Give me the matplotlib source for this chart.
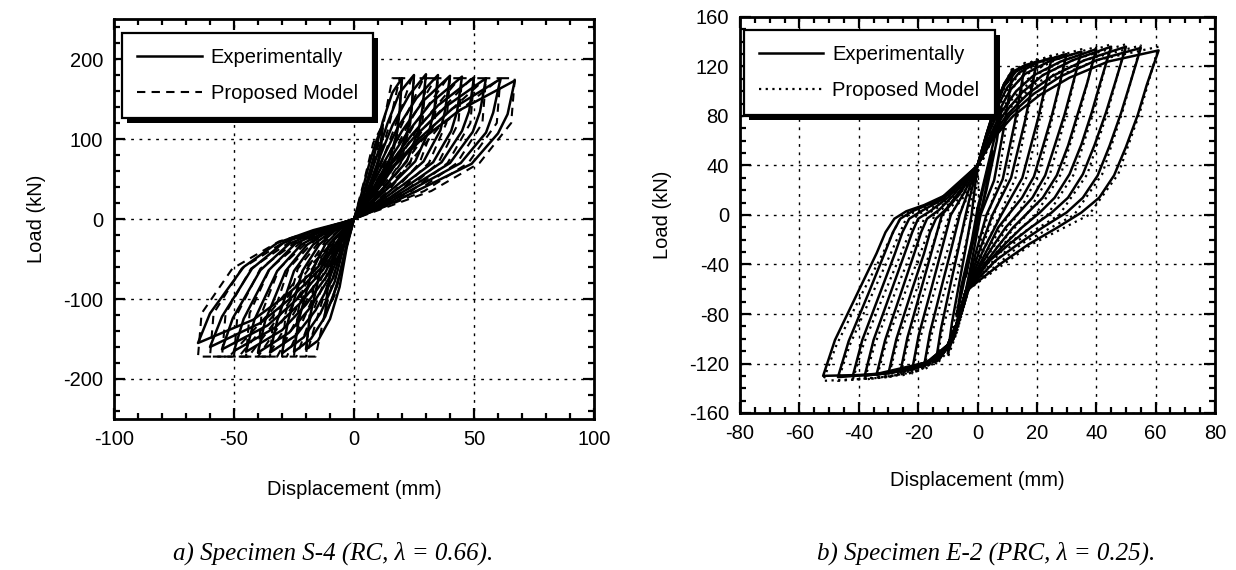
import matplotlib
matplotlib.use("Agg")
import matplotlib.pyplot as plt
from matplotlib.ticker import MultipleLocator
from matplotlib.patches import Rectangle
from matplotlib.transforms import IdentityTransform

plt.rcParams['font.family'] = ['Liberation Sans', 'DejaVu Sans']
plt.rcParams['axes.unicode_minus'] = False

# ---- a) Specimen S-4 : one closed loop per cycle, (displacement mm, load kN)
S4_EXP = [
    [(0, 0), (3, 30), (6, 65), (9, 95), (12, 118), (11, 90), (9.5, 62), (7, 38), (3.5, 15), (0, 0),
     (-3, -32), (-6, -70), (-9, -100), (-12, -118), (-11, -88), (-8.5, -48), (-6, -25), (-3, -11), (-0.5, -2), (0, 0)],
    [(0, 0), (4, 32), (8, 75), (12, 122), (16, 158), (20, 176), (19, 135), (18, 109), (14.5, 70), (9.5, 44), (4.5, 19), (0, 0),
     (-3, -35), (-6, -85), (-10, -125), (-15, -152), (-20, -163), (-18.5, -124), (-14, -64), (-10, -31), (-5, -15), (-1, -3), (0, 0)],
    [(0, 0), (4, 30), (9, 74), (14, 120), (19, 158), (25, 180), (24, 137), (22.5, 112), (18, 72), (12, 45), (5.5, 20), (0, 0),
     (-3, -32), (-7, -82), (-12, -122), (-18, -150), (-25, -166), (-23, -126), (-17.5, -65), (-12, -32), (-6.5, -15), (-1.5, -3), (0, 0)],
    [(0, 0), (5, 31), (10, 72), (16, 117), (23, 155), (30, 181), (28.5, 138), (27, 112), (22, 72), (14, 45), (6.5, 20), (0, 0),
     (-4, -32), (-8, -78), (-14, -118), (-21, -148), (-30, -168), (-27.5, -128), (-21.5, -65), (-14.5, -32), (-8, -15), (-1.5, -3), (0, 0)],
    [(0, 0), (5, 29), (11, 70), (18, 113), (26, 151), (35, 180), (33.5, 137), (31.5, 112), (25.5, 72), (16.5, 45), (7.5, 20), (0, 0),
     (-4, -30), (-9, -75), (-16, -114), (-24, -145), (-35, -167), (-32, -127), (-25, -65), (-17, -32), (-9, -15), (-2, -3), (0, 0)],
    [(0, 0), (5, 28), (12, 68), (20, 110), (29, 148), (40, 179), (38, 136), (36, 111), (29, 72), (19, 45), (9, 20), (0, 0),
     (-4, -28), (-10, -72), (-18, -110), (-27, -142), (-40, -167), (-37, -127), (-28.5, -65), (-19.5, -32), (-10.5, -15), (-2, -3), (0, 0)],
    [(0, 0), (6, 28), (13, 66), (22, 107), (32, 145), (45, 178), (43, 135), (40.5, 110), (33, 71), (21, 44), (10, 20), (0, 0),
     (-5, -28), (-11, -70), (-20, -107), (-30, -139), (-45, -166), (-41.5, -126), (-32, -65), (-22, -32), (-11.5, -15), (-2, -3), (0, 0)],
    [(0, 0), (6, 27), (14, 65), (24, 105), (35, 142), (50, 177), (48, 135), (45, 110), (36.5, 71), (23.5, 44), (11, 19), (0, 0),
     (-5, -26), (-12, -67), (-22, -104), (-33, -136), (-50, -165), (-46, -125), (-35.5, -64), (-24.5, -31), (-13, -15), (-2.5, -3), (0, 0)],
    [(0, 0), (6, 26), (14, 63), (25, 102), (38, 140), (55, 176), (52.5, 134), (49.5, 109), (40, 70), (26, 44), (12, 19), (0, 0),
     (-5, -25), (-13, -64), (-24, -101), (-36, -133), (-55, -163), (-50.5, -124), (-39, -64), (-27, -31), (-14.5, -15), (-3, -3), (0, 0)],
    [(0, 0), (6, 26), (15, 62), (27, 100), (41, 138), (61, 175), (58, 133), (55, 108), (44.5, 70), (28.5, 44), (13.5, 19), (0, 0),
     (-6, -25), (-14, -62), (-26, -98), (-39, -130), (-60, -160), (-55, -122), (-42.5, -62), (-29.5, -30), (-15.5, -14), (-3, -3), (0, 0)],
    [(0, 0), (6, 25), (15, 61), (28, 99), (44, 136), (67, 173), (64, 131), (60, 107), (49, 69), (31.5, 43), (15, 19), (0, 0),
     (-6, -24), (-15, -60), (-28, -95), (-42, -126), (-65, -155), (-60, -118), (-46, -60), (-32, -30), (-17, -14), (-3, -3), (0, 0)],
]

S4_MODEL = [
    [(0, 0), (4, 45), (8, 95), (12, 118), (11, 80), (8, 45), (4, 18), (0, 0),
     (-4, -45), (-8, -95), (-12, -118), (-11, -80), (-8, -42), (-4, -16), (0, 0)],
    [(0, 0), (7, 55), (12, 115), (16, 176), (20, 176), (18.5, 120), (15.6, 70), (9.6, 35), (0, 0),
     (-7, -55), (-12, -115), (-16, -172), (-20, -172), (-18.5, -118), (-15.6, -62), (-9.6, -28), (0, 0)],
    [(0, 0), (8.3, 55), (14.5, 115), (19, 176), (25, 176), (23.5, 120), (19.5, 70), (12, 35), (0, 0),
     (-8.3, -55), (-14.5, -115), (-20, -172), (-25, -172), (-23.5, -118), (-19.5, -62), (-12, -28), (0, 0)],
    [(0, 0), (9.5, 55), (17, 115), (24, 176), (30, 176), (28.5, 120), (23.4, 70), (14.4, 35), (0, 0),
     (-9.5, -55), (-17, -115), (-24, -172), (-30, -172), (-28.5, -118), (-23.4, -62), (-14.4, -28), (0, 0)],
    [(0, 0), (10.8, 55), (19.5, 115), (29, 176), (35, 176), (33.5, 120), (27.3, 70), (16.8, 35), (0, 0),
     (-10.8, -55), (-19.5, -115), (-28, -172), (-35, -172), (-33.5, -118), (-27.3, -62), (-16.8, -28), (0, 0)],
    [(0, 0), (12, 55), (22, 115), (34, 176), (40, 176), (38.5, 120), (31.2, 70), (19.2, 35), (0, 0),
     (-12, -55), (-22, -115), (-32, -172), (-40, -172), (-38.5, -118), (-31.2, -62), (-19.2, -28), (0, 0)],
    [(0, 0), (13.3, 55), (24.5, 115), (39, 176), (45, 176), (43.5, 120), (35.1, 70), (21.6, 35), (0, 0),
     (-13.3, -55), (-24.5, -115), (-36, -172), (-45, -172), (-43.5, -118), (-35.1, -62), (-21.6, -28), (0, 0)],
    [(0, 0), (14.5, 55), (27, 115), (44, 176), (50, 176), (48.5, 120), (39, 70), (24, 35), (0, 0),
     (-14.5, -55), (-27, -115), (-40, -172), (-50, -172), (-48.5, -118), (-39, -62), (-24, -28), (0, 0)],
    [(0, 0), (15.8, 55), (29.5, 115), (49, 176), (55, 176), (53.5, 120), (42.9, 70), (26.4, 35), (0, 0),
     (-15.8, -55), (-29.5, -115), (-44, -172), (-55, -172), (-53.5, -118), (-42.9, -62), (-26.4, -28), (0, 0)],
    [(0, 0), (17.3, 55), (32.5, 115), (55, 176), (61, 176), (59.5, 120), (47.6, 70), (29.3, 35), (0, 0),
     (-17, -55), (-32, -115), (-48, -172), (-60, -172), (-58.5, -118), (-46.8, -62), (-28.8, -28), (0, 0)],
    [(0, 0), (18.8, 55), (35.5, 115), (61, 176), (67, 176), (65.5, 120), (52.3, 70), (32.2, 35), (0, 0),
     (-18.3, -55), (-34.5, -115), (-52, -172), (-65, -172), (-63.5, -118), (-50.7, -62), (-31.2, -28), (0, 0)],
]

# ---- b) Specimen E-2
E2_EXP = [
    [(0, 0), (2.5, 28), (5, 52), (4, 36), (1.5, 5), (-1.5, -22), (-4, -50), (-3, -34), (-0.5, -8), (0, 0)],
    [(0, 5), (4, 45), (8, 85), (6.5, 60), (3, 20), (-1, -15), (-4, -48), (-7, -82), (-5.5, -58), (-2, -22), (0, 5)],
    [(0, 40), (3, 65), (6, 88), (9, 106), (12, 118), (9, 72), (5.6, 28), (1, 0), (-1.5, -32), (-4, -62),
     (-7, -90), (-10, -112), (-8.6, -87), (-6, -53), (-4, -27), (-2, 0), (-1, 20), (0, 40)],
    [(0, 40), (3, 65), (6, 88), (9, 106), (12, 115), (16, 121), (12.5, 74), (8.5, 29), (3, 0), (-0.5, -30), (-4, -62),
     (-7, -88), (-10, -106), (-14, -118), (-12.3, -92), (-9, -55), (-6.5, -28), (-4, 0), (-2, 20), (0, 40)],
    [(0, 40), (3, 65), (6, 88), (9, 106), (12, 116), (16, 121), (20, 124), (16, 76), (11.3, 30), (5, 0), (0.5, -30), (-4, -62),
     (-7, -88), (-10, -105), (-13, -114), (-18, -122), (-16, -95), (-12, -57), (-9, -29), (-6, 0), (-3, 20), (0, 40)],
    [(0, 40), (3, 64), (6, 86), (9, 104), (13, 116), (18, 122), (25, 127), (20.4, 78), (15.1, 30), (8, 0), (2, -28), (-4, -62),
     (-7, -88), (-10, -105), (-14, -115), (-22, -125), (-19.8, -97), (-15.5, -59), (-12.3, -30), (-9, 0), (-4.5, 18), (0, 40)],
    [(0, 40), (3, 63), (6, 84), (10, 103), (14, 115), (20, 123), (30, 130), (27.5, 104), (24.9, 79), (22, 55), (19, 31),
     (15, 14), (11, 2), (7, -10), (3.5, -27), (-4, -62),
     (-7, -88), (-10, -105), (-14, -116), (-20, -123), (-26, -127), (-23.6, -99), (-19, -60), (-15.5, -30), (-12, 0), (-6, 17), (0, 40)],
    [(0, 40), (3, 62), (7, 83), (11, 101), (16, 114), (24, 124), (35, 132), (32, 105), (29.3, 81), (26, 56), (22.8, 32),
     (18.5, 14), (14, 2), (9.5, -10), (5, -26), (0, -45), (-4, -62),
     (-7, -88), (-10, -105), (-15, -117), (-22, -124), (-30, -128), (-27.3, -100), (-22, -60), (-18, -31), (-16, -14),
     (-14, -3), (-10.5, 5), (-7, 16), (0, 40)],
    [(0, 40), (4, 63), (8, 83), (13, 100), (19, 113), (28, 124), (40, 134), (37, 107), (33.8, 82), (30.5, 56), (26.7, 32),
     (22, 14), (17, 2), (12, -10), (7, -25), (1, -44), (-4, -62),
     (-7, -88), (-10, -105), (-15, -117), (-24, -125), (-34, -129), (-31.1, -101), (-25.5, -61), (-21.3, -31), (-19, -14),
     (-17, -3), (-13, 4), (-8.5, 15), (0, 40)],
    [(0, 40), (4, 62), (9, 82), (15, 99), (22, 113), (32, 125), (45, 136), (41.5, 108), (38.5, 83), (35, 57), (31, 33),
     (26, 14), (21, 2), (15, -10), (9, -24), (2, -42), (-4, -62),
     (-7, -88), (-10, -105), (-16, -118), (-26, -126), (-38, -130), (-35, -101), (-29, -61), (-24.5, -31), (-22, -14),
     (-20, -3), (-16, 3), (-10, 14), (0, 40)],
    [(0, 40), (4, 61), (10, 81), (17, 98), (25, 112), (36, 125), (50, 136), (46.5, 108), (43.3, 83), (39.5, 57), (35.5, 33),
     (30.5, 14), (25, 2), (18, -10), (11, -23), (4, -37), (0, -50), (-4, -62),
     (-7, -88), (-10, -105), (-16, -118), (-28, -127), (-42, -130), (-38.8, -101), (-32.5, -61), (-27.8, -31), (-25.3, -14),
     (-23, -3), (-19, 3), (-11.5, 13), (0, 40)],
    [(0, 40), (5, 62), (11, 81), (19, 98), (28, 112), (40, 125), (55, 135), (51.5, 107), (48.3, 82), (44.5, 56), (40.5, 32),
     (35.5, 14), (30, 2), (22, -10), (14, -23), (6, -37), (0, -52), (-4, -62),
     (-7, -88), (-10, -105), (-17, -119), (-30, -128), (-47, -131), (-43.4, -102), (-36.5, -62), (-31.3, -31), (-28.5, -14),
     (-26, -3), (-22, 3), (-13, 12), (0, 40)],
    [(0, 40), (5, 61), (12, 80), (21, 97), (31, 111), (44, 124), (61, 133), (57, 105), (54, 81), (50, 55), (46, 32),
     (41, 14), (35, 2), (27, -10), (17, -24), (8, -39), (0, -54), (-4, -62),
     (-7, -88), (-10, -105), (-17, -119), (-35, -129), (-52, -130), (-48, -101), (-40, -61), (-34, -31), (-31, -14),
     (-28, -3), (-24, 3), (-18, 8), (-9, 18), (0, 40)],
]

E2_MODEL = [
    [(0, 35), (4, 70), (8, 100), (12, 120), (9.7, 73), (7.1, 29), (3.5, 0), (0, -30), (-3, -60),
     (-7, -95), (-10, -115), (-8.2, -90), (-4.8, -54), (-2.1, -28), (0.5, 0), (0.5, 18), (0, 35)],
    [(0, 35), (6, 90), (12, 116), (16, 123), (13.2, 75), (9.9, 30), (5.5, 0), (1, -30), (-3, -60),
     (-7, -95), (-11, -113), (-14, -121), (-11.9, -94), (-7.8, -57), (-4.6, -29), (-1.5, 0), (-0.5, 18), (0, 35)],
    [(0, 35), (6, 90), (12, 116), (20, 126), (16.6, 77), (12.8, 30), (7.5, 0), (2, -29), (-3, -60),
     (-8, -100), (-13, -117), (-18, -125), (-15.5, -97), (-10.8, -59), (-7.1, -30), (-3.5, 0), (-1.5, 17), (0, 35)],
    [(0, 35), (6, 90), (12, 116), (18, 123), (25, 129), (21.1, 79), (16.6, 31), (10.5, 0), (3.5, -28), (-3, -60),
     (-8, -100), (-13, -117), (-22, -128), (-19.4, -100), (-14.3, -60), (-10.4, -31), (-6.5, 0), (-3, 16), (0, 35)],
    [(0, 35), (6, 90), (12, 116), (20, 125), (30, 132), (25.5, 81), (20.4, 32), (13.5, 0), (5, -27), (-3, -60),
     (-8, -100), (-13, -117), (-20, -126), (-26, -130), (-23.2, -101), (-17.8, -61), (-13.6, -31), (-9.5, 0), (-4.5, 15), (0, 35)],
    [(0, 35), (7, 90), (14, 114), (24, 126), (35, 134), (30, 82), (24.3, 32), (16.5, 0), (6.5, -26), (-3, -60),
     (-8, -100), (-13, -117), (-22, -127), (-30, -131), (-26.9, -102), (-20.8, -62), (-16.1, -31), (-11.5, 0), (-5.5, 15), (0, 35)],
    [(0, 35), (7, 88), (15, 112), (27, 126), (40, 136), (34.5, 83), (28.1, 33), (19.5, 0), (8, -25), (-3, -60),
     (-8, -100), (-13, -117), (-24, -128), (-34, -132), (-30.7, -103), (-24.3, -62), (-19.4, -32), (-14.5, 0), (-7, 14), (0, 35)],
    [(0, 35), (8, 86), (17, 110), (30, 126), (45, 138), (39.2, 84), (32.5, 33), (23.5, 0), (10, -24), (-3, -60),
     (-8, -100), (-13, -117), (-26, -129), (-38, -133), (-34.5, -104), (-27.8, -63), (-22.6, -32), (-17.5, 0), (-8.5, 13), (0, 35)],
    [(0, 35), (8, 85), (18, 108), (33, 126), (50, 138), (43.9, 84), (37, 33), (27.5, 0), (12, -23), (-3, -60),
     (-8, -100), (-13, -117), (-28, -130), (-42, -133), (-38.3, -104), (-31.3, -63), (-25.9, -32), (-20.5, 0), (-10, 12), (0, 35)],
    [(0, 35), (9, 84), (20, 107), (36, 125), (55, 137), (48.9, 84), (42, 33), (32.5, 0), (15, -23), (-3, -60),
     (-8, -100), (-13, -117), (-30, -131), (-47, -134), (-43, -105), (-35.3, -63), (-29.4, -32), (-23.5, 0), (-11.5, 12), (0, 35)],
    [(0, 35), (9, 83), (21, 106), (40, 125), (61, 136), (54.7, 83), (47.4, 33), (37.5, 0), (18, -24), (-3, -60),
     (-8, -100), (-13, -117), (-35, -132), (-52, -134), (-47.5, -105), (-38.8, -63), (-32.1, -32), (-25.5, 0), (-12.5, 13), (0, 35)],
]

LEGEND_LABELS = ['Experimentally', 'Proposed Model']
CAPTIONS = ['a) Specimen S-4 (RC, \u03bb = 0.66).', 'b) Specimen E-2 (PRC, \u03bb = 0.25).']

FS = 14.5


def style_axes(ax, xlim, ylim, xmaj, xmin, ymaj, ymin):
    ax.set_xlim(*xlim)
    ax.set_ylim(*ylim)
    ax.xaxis.set_major_locator(MultipleLocator(xmaj))
    ax.xaxis.set_minor_locator(MultipleLocator(xmin))
    ax.yaxis.set_major_locator(MultipleLocator(ymaj))
    ax.yaxis.set_minor_locator(MultipleLocator(ymin))
    ax.tick_params(which='both', direction='in', top=True, right=True, labelsize=FS, width=1.6)
    ax.tick_params(which='major', length=8, pad=8)
    ax.tick_params(which='minor', length=4.5)
    for s in ax.spines.values():
        s.set_linewidth(2.0)
    ax.grid(True, which='major', color='k', linestyle=(0, (2, 4)), linewidth=1.0)
    ax.set_axisbelow(True)
    ax.set_ylabel('Load (kN)', fontsize=FS, labelpad=12)


def draw_loops(ax, loops, label, **kw):
    for i, loop in enumerate(loops):
        xs = [p[0] for p in loop]
        ys = [p[1] for p in loop]
        ax.plot(xs, ys, color='k', label=label if i == 0 else None, **kw)


fig = plt.figure(figsize=(12.36, 5.70), dpi=100)
ax1 = fig.add_axes([114 / 1236, 151 / 570, 480 / 1236, 400 / 570])
ax2 = fig.add_axes([740 / 1236, 157 / 570, 475 / 1236, 396 / 570])

draw_loops(ax1, S4_EXP, LEGEND_LABELS[0], linewidth=1.8, solid_joinstyle='round')
draw_loops(ax1, S4_MODEL, LEGEND_LABELS[1], linewidth=1.5, linestyle=(0, (4, 3)))
style_axes(ax1, (-100, 100), (-250, 250), 50, 10, 100, 20)
ax1.set_xlabel('Displacement (mm)', fontsize=FS, labelpad=22)

draw_loops(ax2, E2_EXP, LEGEND_LABELS[0], linewidth=1.8, solid_joinstyle='round')
draw_loops(ax2, E2_MODEL, LEGEND_LABELS[1], linewidth=1.6, linestyle=(0, (1, 2)))
style_axes(ax2, (-80, 80), (-160, 160), 20, 5, 40, 10)
ax2.set_xlabel('Displacement (mm)', fontsize=FS, labelpad=20)

legends = []
for ax, anchor in ((ax1, (0.017, 0.965)), (ax2, (0.008, 0.967))):
    leg = ax.legend(loc='upper left', bbox_to_anchor=anchor, borderaxespad=0, fontsize=FS,
                    handlelength=3.2, handletextpad=0.45, borderpad=0.75, labelspacing=0.85,
                    fancybox=False, framealpha=1, edgecolor='k', shadow=False)
    leg.get_frame().set_linewidth(1.6)
    legends.append((ax, leg))

fig.text(333 / 1236, 1 - 553 / 570, CAPTIONS[0], family=['Liberation Serif', 'DejaVu Serif'],
         style='italic', fontsize=18, ha='center', va='center')
fig.text(986 / 1236, 1 - 553 / 570, CAPTIONS[1], family=['Liberation Serif', 'DejaVu Serif'],
         style='italic', fontsize=18, ha='center', va='center')

# solid black drop shadow behind each legend box
fig.canvas.draw()
for ax, leg in legends:
    bb = leg.get_frame().get_window_extent()
    ax.add_patch(Rectangle((bb.x0 + 5, bb.y0 - 5), bb.width, bb.height, transform=IdentityTransform(),
                           facecolor='k', edgecolor='none', zorder=4.9, clip_on=False))

fig.savefig('out.png', dpi=100)
